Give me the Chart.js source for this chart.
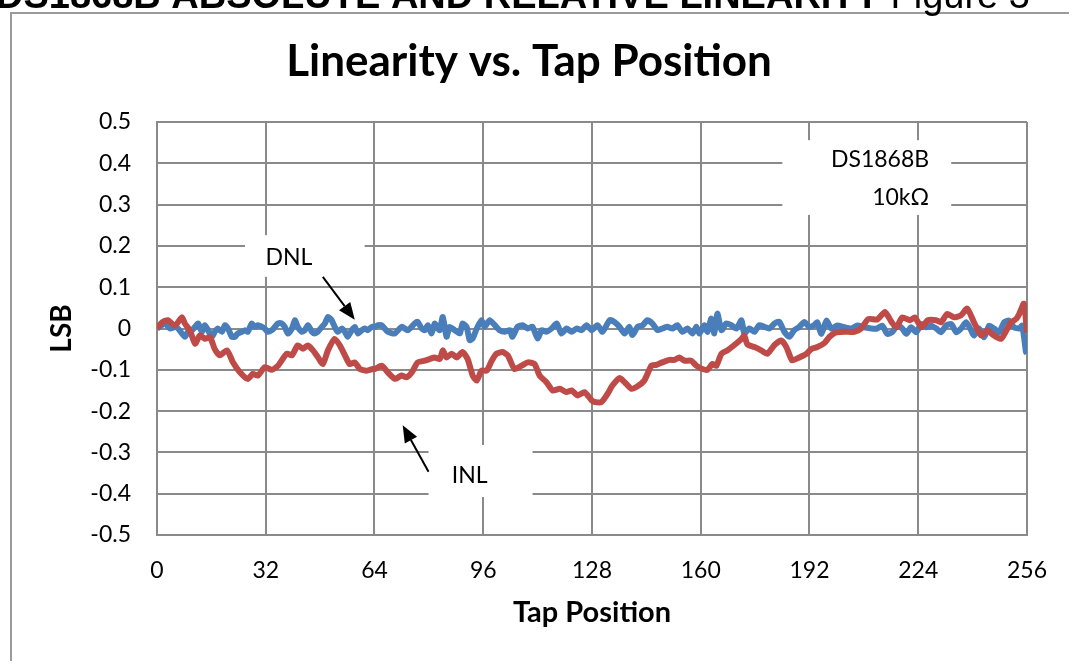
<!DOCTYPE html>
<html>
<head>
<meta charset="utf-8">
<script src="https://cdn.jsdelivr.net/npm/chart.js@4"></script>
<style>
  html, body { margin: 0; padding: 0; background: #fff; }
  #wrap { position: relative; width: 1069px; height: 661px; overflow: hidden; }
</style>
</head>
<body>
<div id="wrap"><canvas id="linChart" width="1069" height="661"></canvas></div>
<script>
// tick marks
const xTicks = [0, 32, 64, 96, 128, 160, 192, 224, 256];
const yTicks = [0.5, 0.4, 0.3, 0.2, 0.1, 0, -0.1, -0.2, -0.3, -0.4, -0.5];

// DNL (blue)
const dnlTaps = [0, 2.4, 3.8, 5.3, 6.2, 8.2, 9.1, 10.3, 11.2, 12.1, 13.2, 14.1, 15, 16.2, 17, 17.9, 19.1, 20, 20.9, 22, 22.9, 23.8, 25, 25.9, 26.7, 27.9, 28.8, 29.7, 30.9, 31.7, 32.6, 33.8, 34.7, 35.6, 36.7, 37.6, 38.5, 39.7, 40.6, 41.4, 42.6, 43.5, 44.4, 45.6, 46.4, 47.3, 48.5, 49.4, 50.3, 51.4, 52.3, 53.2, 54.4, 55.3, 56.1, 57.3, 58.2, 59.1, 60.3, 61.1, 62, 63.2, 64.1,
  65, 66.1, 67.9, 70, 72, 73.8, 75.8, 76.7, 77.9, 78.8, 79.7, 80.8, 81.7, 82.6, 83.2, 84.1, 85.2, 86.1, 87.6, 89.1, 89.9, 91.1, 92, 92.9, 94.1, 95.5, 96.4, 97.9, 99.4, 100.8, 102.3, 103.8, 104.6, 106.1, 107.6, 109.1, 110.5, 112, 113.2, 114.6, 116.1, 117.6, 119, 120.5, 122, 123.5, 124.9, 126.4, 127.9,
  129.6, 131.1, 133.2, 134.6, 136.1, 137.6, 139, 139.9, 141.4, 142.9, 144.3, 145.8, 147.3, 148.7, 150.2, 151.7, 153.1, 154.6, 156.1, 157.6, 158.7, 159.6, 161.1, 162, 163.1, 164, 164.9, 166.1, 167.5, 169, 170.5, 172, 172.8, 174.3, 175.8, 177.2, 178.7, 180.2, 181.7, 183.1, 184.6, 186.1, 187.5, 189, 190.5, 191.9, 193.4,
  194.3, 195.5, 197, 198.4, 200.2, 202.2, 204.3, 206.1, 208.1, 210.2, 211.9, 213.4, 214.9, 216.3, 217.8, 219.3, 220.5, 221.9, 223.4, 224.9, 226.3, 227.8, 229.3, 230.7, 232.2, 233.7, 235.2, 236.6, 238.1, 239.6, 240.4, 241.9, 243.4, 244.9, 246.3, 247.8, 249.3, 250.7, 252.2, 253.7, 254.6, 255.7, 256];
const dnlValues = [0, 0.012, 0, 0.004, 0, -0.02, -0.008, -0.004, 0.004, 0.012, -0.008, 0.008, -0.004, -0.02, -0.008, 0, -0.008, 0.008, 0, -0.02, -0.02, -0.012, -0.008, -0.004, -0.008, 0.012, 0.004, 0.008, 0.004, 0, -0.008, -0.004, 0.004, 0.012, 0.012, 0.004, -0.012, 0, 0.02, 0.004, -0.008, -0.004, 0.008, -0.008, -0.012, -0.008, 0.004, 0.012, 0.028, 0.02, 0.004, -0.008, 0, -0.008, -0.02, -0.004, 0.004, -0.012, -0.004, 0, -0.004, 0.004, 0.004,
  0.008, 0.008, -0.008, -0.012, 0.004, -0.004, 0.012, 0.016, 0, -0.004, 0.008, -0.012, 0.012, 0, -0.004, 0.028, -0.02, 0.004, -0.004, -0.012, 0.012, 0.004, -0.028, -0.024, 0, 0.02, 0.004, 0.02, 0.008, -0.004, -0.008, -0.004, -0.02, 0.004, 0.008, 0, 0.004, -0.024, -0.004, -0.008, 0, 0.012, -0.012, 0, -0.008, 0, -0.004, 0.008, -0.004,
  0.008, -0.008, 0.02, 0.016, 0.004, -0.012, 0.004, -0.016, 0.004, 0.008, 0.02, 0.012, -0.004, 0, 0.004, 0, 0.008, -0.008, 0, -0.012, 0.004, -0.012, 0.008, -0.008, 0.024, -0.012, 0.036, -0.004, 0.012, 0.008, 0, 0.02, -0.012, 0, -0.008, 0.008, 0.004, 0, 0.012, 0.016, -0.008, -0.02, -0.004, 0.004, 0.016, 0.004, 0.008,
  0.015, -0.013, 0.019, 0, 0.007, 0.003, 0, 0.007, 0.003, 0, 0, 0.007, -0.013, -0.009, 0.007, 0, -0.013, 0.003, -0.009, 0.011, 0.003, 0.007, 0, -0.009, 0.007, 0.011, -0.009, 0, 0.015, -0.005, -0.017, 0, -0.021, 0.007, 0, -0.009, 0.015, 0.019, 0.003, 0, 0.007, -0.057, -0.06];

// INL (red)
const inlTaps = [0, 1.5, 3.2, 5.3, 7.3, 8.2, 9.7, 11.2, 12.6, 14.1, 15.6, 17, 18.5, 20.6, 22.3, 24.4, 26.7, 28.2, 29.7, 31.7, 33.8, 35.6, 38.2, 39.7, 41.4, 42.9, 44.4, 45.9, 47.3, 48.8, 50.3, 52.3, 53.8, 55.3, 56.7, 58.2, 59.7, 61.7, 63.5,
  64.1, 66.1, 67.9, 70, 72, 73.5, 75, 76.7, 78.8, 80.2, 81.7, 83.2, 84.1, 85.2, 86.7, 88.2, 89.9, 91.4, 92.9, 94.1, 95.5, 97, 98.5, 99.9, 101.7, 103.2, 105.2, 107.3, 109.1, 111.1, 112.6, 114.6, 116.4, 118.5, 120.5, 122, 123.8, 125.8, 127.9, 128.8,
  130.8, 132.6, 134, 136.1, 137.6, 139.6, 141.4, 143.4, 145.5, 147, 148.7, 150.8, 152.3, 153.7, 155.2, 157.2, 158.7, 160.5, 162, 163.4, 164.6, 166.1, 167.8, 169.9, 172, 172.8, 173.7, 175.8, 177.8, 179.6, 181.7, 183.7, 185.2, 186.9, 189, 191.1, 192.5,
  194.3, 196.4, 197.9, 199.6, 202.2, 205.2, 207.2, 209.3, 212, 214.2, 216.2, 217.6, 219.3, 221.6, 223, 225, 226.8, 229.3, 230.7, 232.5, 234.6, 236.6, 238.4, 240.4, 242.5, 244.3, 246.3, 248.4, 249.9, 251.3, 252.8, 253.7, 255.1, 256];
const inlValues = [0, 0.015, 0.02, 0.007, 0.027, 0.012, -0.005, -0.037, -0.017, -0.025, -0.021, -0.05, -0.065, -0.053, -0.081, -0.106, -0.122, -0.11, -0.114, -0.094, -0.1, -0.09, -0.061, -0.065, -0.041, -0.049, -0.041, -0.053, -0.069, -0.086, -0.053, -0.025, -0.041, -0.065, -0.086, -0.082, -0.098, -0.102, -0.098,
  -0.098, -0.09, -0.106, -0.122, -0.114, -0.118, -0.106, -0.082, -0.078, -0.074, -0.07, -0.074, -0.053, -0.07, -0.061, -0.07, -0.057, -0.074, -0.114, -0.126, -0.102, -0.102, -0.078, -0.061, -0.057, -0.065, -0.098, -0.09, -0.082, -0.086, -0.114, -0.13, -0.15, -0.146, -0.154, -0.15, -0.162, -0.154, -0.174, -0.178,
  -0.178, -0.158, -0.138, -0.12, -0.13, -0.146, -0.14, -0.126, -0.09, -0.088, -0.082, -0.076, -0.076, -0.07, -0.078, -0.078, -0.09, -0.098, -0.1, -0.086, -0.09, -0.061, -0.053, -0.04, -0.025, -0.017, -0.038, -0.045, -0.053, -0.061, -0.04, -0.029, -0.045, -0.077, -0.07, -0.061, -0.05,
  -0.045, -0.035, -0.02, -0.01, -0.008, -0.008, 0, 0.023, 0.022, 0.04, 0.015, 0.003, 0.027, 0.02, 0.027, 0.003, 0.02, 0.02, 0.015, 0.035, 0.027, 0.032, 0.048, 0.015, -0.017, -0.005, -0.017, -0.025, -0.005, 0.015, 0.023, 0.035, 0.06, -0.01];

const gridColor = '#8a8a8a';
const fontFace = 'Lato, "Open Sans", sans-serif';

function toPoints(xs, ys) {
    return xs.map((x, i) => ({ x: x, y: ys[i] }));
}

// text boxes and arrows, placed in data units
const labelBoxes = [
    { x0: 25.9, x1: 61.1, y0: 0.226, y1: 0.125 },
    { x0: 79.9, x1: 110.5, y0: -0.282, y1: -0.408 },
    { x0: 184, x1: 233.7, y0: 0.456, y1: 0.275 }
];
const labelTexts = [
    { text: 'DNL', x: 38.8, y: 0.171, align: 'center' },
    { text: 'INL', x: 92, y: -0.355, align: 'center' },
    { text: 'DS1868B', x: 227.2, y: 0.408, align: 'right' },
    { text: '10kΩ', x: 227.2, y: 0.318, align: 'right' }
];
const arrows = [
    { fromX: 48.8, fromY: 0.125, toX: 58.2, toY: 0.021 },
    { fromX: 79.9, fromY: -0.347, toX: 72.3, toY: -0.234 }
];

const framePlugin = {
    id: 'frame',
    beforeDraw(chart) {
        const ctx = chart.ctx;
        ctx.save();
        ctx.fillStyle = '#fff';
        ctx.fillRect(0, 0, chart.width, chart.height);
        ctx.strokeStyle = '#9a9a9a';
        ctx.lineWidth = 2;
        ctx.strokeRect(11, 13, chart.width + 20, chart.height + 20);
        // cut-off heading of the page above the chart
        ctx.fillStyle = '#000';
        ctx.textBaseline = 'alphabetic';
        ctx.textAlign = 'left';
        ctx.font = 'bold 38px "Liberation Sans", Arial, sans-serif';
        const head = 'DS1868B ABSOLUTE AND RELATIVE LINEARITY ';
        ctx.fillText(head, -4, 8);
        const w = ctx.measureText(head).width;
        ctx.font = '38px "Liberation Sans", Arial, sans-serif';
        ctx.fillText('Figure 3', -4 + w, 8);
        ctx.restore();
    }
};

const notesPlugin = {
    id: 'notes',
    afterDatasetsDraw(chart) {
        const ctx = chart.ctx;
        const xs = chart.scales.x, ys = chart.scales.y;
        ctx.save();
        ctx.fillStyle = '#fff';
        labelBoxes.forEach(b => {
            const l = xs.getPixelForValue(b.x0), r = xs.getPixelForValue(b.x1);
            const t = ys.getPixelForValue(b.y0), btm = ys.getPixelForValue(b.y1);
            ctx.fillRect(l, t, r - l, btm - t);
        });
        ctx.fillStyle = '#000';
        ctx.font = '23px ' + fontFace;
        ctx.textBaseline = 'middle';
        labelTexts.forEach(t => {
            ctx.textAlign = t.align;
            ctx.fillText(t.text, xs.getPixelForValue(t.x), ys.getPixelForValue(t.y));
        });
        ctx.strokeStyle = '#000';
        ctx.lineWidth = 2;
        arrows.forEach(a => {
            const x1 = xs.getPixelForValue(a.fromX), y1 = ys.getPixelForValue(a.fromY);
            const x2 = xs.getPixelForValue(a.toX), y2 = ys.getPixelForValue(a.toY);
            const ang = Math.atan2(y2 - y1, x2 - x1);
            const head = 17, half = 7;
            const bx = x2 - head * Math.cos(ang), by = y2 - head * Math.sin(ang);
            ctx.beginPath();
            ctx.moveTo(x1, y1);
            ctx.lineTo(bx, by);
            ctx.stroke();
            ctx.beginPath();
            ctx.moveTo(x2, y2);
            ctx.lineTo(bx + half * Math.sin(ang), by - half * Math.cos(ang));
            ctx.lineTo(bx - half * Math.sin(ang), by + half * Math.cos(ang));
            ctx.closePath();
            ctx.fill();
        });
        ctx.restore();
    }
};

function makeChart() {
    const canvas = document.getElementById('linChart');
    new Chart(canvas, {
        type: 'line',
        data: {
            datasets: [{
                label: 'DNL',
                data: toPoints(dnlTaps, dnlValues),
                borderColor: '#4a7ebb',
                borderWidth: 6,
                pointRadius: 0,
                tension: 0.2,
                fill: false,
                order: 2
            }, {
                label: 'INL',
                data: toPoints(inlTaps, inlValues),
                borderColor: '#be4b48',
                borderWidth: 6,
                pointRadius: 0,
                tension: 0.2,
                fill: false,
                order: 1
            }]
        },
        options: {
            responsive: false,
            animation: false,
            layout: { padding: { left: 0, top: 122, right: 41, bottom: 0 } },
            plugins: {
                legend: { display: false },
                tooltip: { enabled: false },
                title: {
                    display: false
                }
            },
            scales: {
                x: {
                    type: 'linear',
                    min: 0,
                    max: 256,
                    afterBuildTicks(scale) {
                        scale.ticks = xTicks.map(v => ({ value: v }));
                    },
                    afterFit(scale) { scale.height = 126; },
                    grid: { color: gridColor, lineWidth: 2, drawTicks: false },
                    border: { color: gridColor, width: 2 },
                    ticks: { padding: 22, color: '#000', font: { family: fontFace, size: 23 } },
                    title: {
                        display: true,
                        text: 'Tap Position',
                        color: '#000',
                        font: { family: fontFace, size: 29, weight: 'bold' },
                        padding: { top: 0, bottom: 31 }
                    }
                },
                y: {
                    min: -0.5,
                    max: 0.5,
                    afterBuildTicks(scale) {
                        scale.ticks = yTicks.map(v => ({ value: v }));
                    },
                    afterFit(scale) { scale.width = 157; },
                    grid: { color: gridColor, lineWidth: 2, drawTicks: false },
                    border: { color: gridColor, width: 2 },
                    ticks: {
                        padding: 26,
                        color: '#000',
                        font: { family: fontFace, size: 23 },
                        callback: v => String(Number(v.toFixed(1)))
                    },
                    title: {
                        display: true,
                        text: 'LSB',
                        color: '#000',
                        font: { family: fontFace, size: 28, weight: 'bold' },
                        padding: { top: 45, bottom: 0 }
                    }
                }
            }
        },
        plugins: [framePlugin, notesPlugin, {
            id: 'mainTitle',
            afterDraw(chart) {
                const ctx = chart.ctx;
                ctx.save();
                ctx.fillStyle = '#000';
                ctx.font = 'bold 44px ' + fontFace;
                ctx.textAlign = 'center';
                ctx.textBaseline = 'middle';
                ctx.fillText('Linearity vs. Tap Position', 529, 62);
                ctx.restore();
            }
        }]
    });
}

Promise.all([
    document.fonts.load('23px Lato'),
    document.fonts.load('bold 29px Lato'),
    document.fonts.load('bold 38px "Liberation Sans"')
]).catch(() => {}).then(makeChart);
</script>
</body>
</html>
